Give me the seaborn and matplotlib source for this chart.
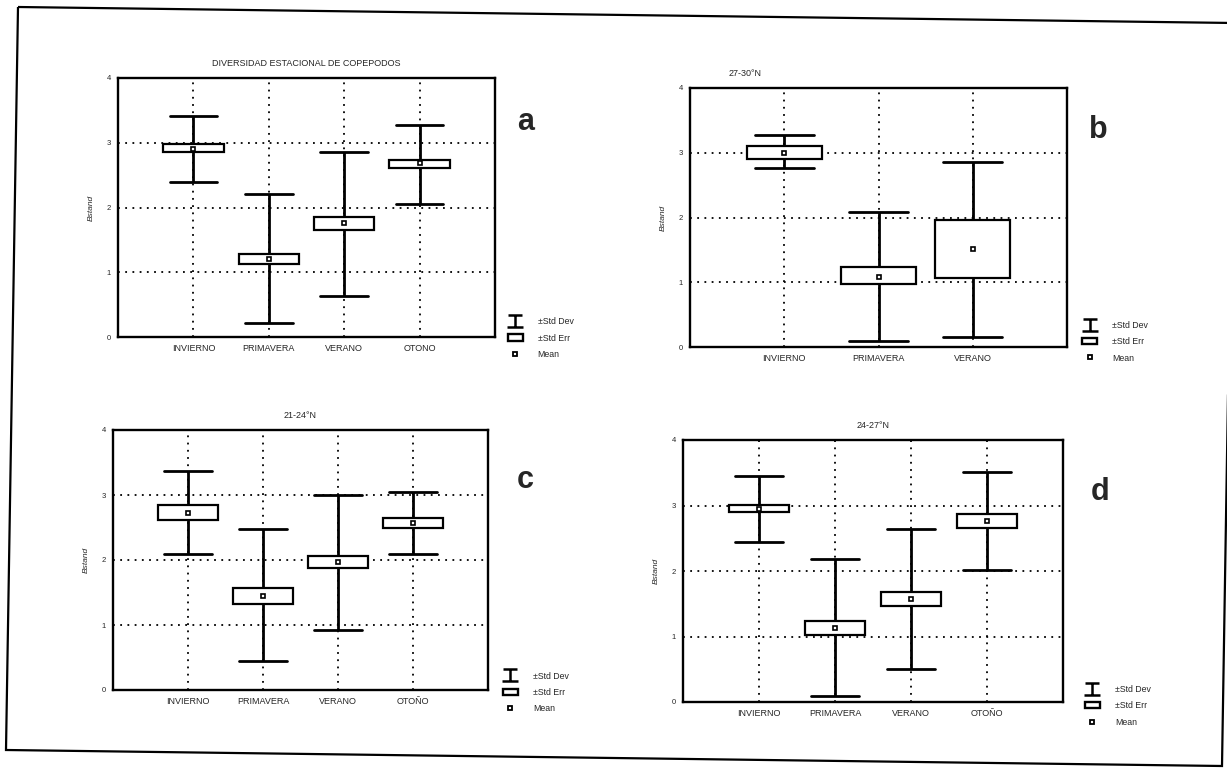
import numpy as np
import pandas as pd
import matplotlib
matplotlib.use("Agg")
import matplotlib.pyplot as plt
import seaborn as sns
from matplotlib.path import Path
from matplotlib.lines import Line2D
from matplotlib.patches import Patch, Polygon

# ---------------- data ----------------
seasons_a = ["INVIERNO", "PRIMAVERA", "VERANO", "OTONO"]
mean_a = [2.90, 1.20, 1.76, 2.68]
se_lo_a = [2.85, 1.12, 1.66, 2.61]
se_hi_a = [2.98, 1.28, 1.86, 2.74]
sd_lo_a = [2.40, 0.21, 0.64, 2.05]
sd_hi_a = [3.42, 2.21, 2.86, 3.28]

seasons_b = ["INVIERNO", "PRIMAVERA", "VERANO"]
mean_b = [3.00, 1.08, 1.51]
se_lo_b = [2.91, 0.97, 1.06]
se_hi_b = [3.10, 1.24, 1.96]
sd_lo_b = [2.77, 0.10, 0.15]
sd_hi_b = [3.27, 2.08, 2.86]

seasons_c = ["INVIERNO", "PRIMAVERA", "VERANO", "OTOÑO"]
mean_c = [2.73, 1.45, 1.97, 2.57]
se_lo_c = [2.62, 1.32, 1.87, 2.50]
se_hi_c = [2.85, 1.57, 2.06, 2.64]
sd_lo_c = [2.10, 0.44, 0.93, 2.09]
sd_hi_c = [3.37, 2.48, 3.00, 3.05]

seasons_d = ["INVIERNO", "PRIMAVERA", "VERANO", "OTOÑO"]
mean_d = [2.95, 1.13, 1.57, 2.77]
se_lo_d = [2.90, 1.02, 1.47, 2.65]
se_hi_d = [3.01, 1.23, 1.68, 2.87]
sd_lo_d = [2.45, 0.09, 0.51, 2.02]
sd_hi_d = [3.45, 2.18, 2.64, 3.51]

titles = ["DIVERSIDAD ESTACIONAL DE COPEPODOS", "27-30°N", "21-24°N", "24-27°N"]
panel_letters = ["a", "b", "c", "d"]
y_label = "Bstand"
y_ticks = [0, 1, 2, 3, 4]
legend_labels = ["±Std Dev", "±Std Err", "Mean"]

# ---------------- styling ----------------
sns.set_theme(style="white")
plt.rcParams['font.family'] = ['Liberation Sans', 'DejaVu Sans']

W, H = 1227, 769
fig = plt.figure(figsize=(W / 100, H / 100), dpi=100)


def px_rect(left, top, right, bottom):
    return [left / W, 1 - bottom / H, (right - left) / W, (bottom - top) / H]


layout = [
    dict(rect=px_rect(118, 78, 495, 337), title_x=0.5, letter_xy=(526, 122), leg=(1.034, -0.085)),
    dict(rect=px_rect(690, 88, 1067, 347), title_x=0.146, letter_xy=(1098, 130), leg=(1.04, -0.06)),
    dict(rect=px_rect(113, 430, 488, 690), title_x=0.5, letter_xy=(525, 480), leg=(1.04, -0.09)),
    dict(rect=px_rect(683, 440, 1063, 702), title_x=0.5, letter_xy=(1100, 492), leg=(1.058, -0.095)),
]

panel_data = [
    (seasons_a, sd_lo_a, se_lo_a, mean_a, se_hi_a, sd_hi_a),
    (seasons_b, sd_lo_b, se_lo_b, mean_b, se_hi_b, sd_hi_b),
    (seasons_c, sd_lo_c, se_lo_c, mean_c, se_hi_c, sd_hi_c),
    (seasons_d, sd_lo_d, se_lo_d, mean_d, se_hi_d, sd_hi_d),
]

# legend handles
sd_path = Path([(-1, 0.8), (1, 0.8), (0, 0.8), (0, -0.8), (-1.1, -0.8), (1.1, -0.8)],
               [Path.MOVETO, Path.LINETO, Path.MOVETO, Path.LINETO, Path.MOVETO, Path.LINETO])
handles = [
    Line2D([], [], marker=sd_path, linestyle='none', color='black', markersize=11, markeredgewidth=1.8),
    Patch(facecolor='white', edgecolor='black', linewidth=1.7),
    Line2D([], [], marker='s', linestyle='none', markersize=3.2, markerfacecolor='white',
           markeredgecolor='black', markeredgewidth=1.3),
]

for i, (cats, sd_lo, se_lo, mean, se_hi, sd_hi) in enumerate(panel_data):
    lay = layout[i]
    ax = fig.add_axes(lay["rect"])
    df = pd.DataFrame({
        "season": np.repeat(cats, 5),
        "value": np.column_stack([sd_lo, se_lo, mean, se_hi, sd_hi]).ravel(),
    })
    sns.boxplot(data=df, x="season", y="value", order=cats, whis=(0, 100), width=0.8,
                color="white", linecolor="black", linewidth=1.6, fliersize=0,
                capwidths=0.63, medianprops=dict(visible=False),
                whiskerprops=dict(linewidth=2.0), capprops=dict(linewidth=2.0), ax=ax)
    sns.pointplot(x=cats, y=mean, order=cats, linestyle="none", marker="s", color="black",
                  markersize=3.5, markerfacecolor="white", markeredgewidth=1.2,
                  errorbar=None, ax=ax)
    for ln in ax.lines[-1:]:
        ln.set_zorder(10)

    ax.set_xlim(-1, len(cats))
    ax.set_ylim(0, 4)
    ax.set_yticks(y_ticks)
    ax.set_axisbelow(True)
    ax.grid(True, axis="both", linestyle=(0, (1, 3)), color="black", linewidth=1.3)
    ax.tick_params(length=0, pad=5)
    ax.tick_params(axis="x", labelsize=6.5)
    ax.tick_params(axis="y", labelsize=5.5)
    ax.set_xlabel("")
    ax.set_ylabel(y_label, fontsize=6, style="italic", labelpad=9)
    for sp in ax.spines.values():
        sp.set_visible(True)
        sp.set_color("black")
        sp.set_linewidth(1.7)
    ax.set_title(titles[i], fontsize=6.5, pad=9, x=lay["title_x"])
    ax.legend(handles, legend_labels, loc="lower left", bbox_to_anchor=lay["leg"],
              frameon=False, fontsize=6.3, handlelength=1.7, handletextpad=1.7,
              labelspacing=0.85, borderpad=0, borderaxespad=0)
    lx, ly = lay["letter_xy"]
    fig.text(lx / W, 1 - ly / H, panel_letters[i], fontsize=22, fontweight="bold",
             ha="center", va="center")

# scanned page frame
corners = [(18, 7), (1234, 23), (1222, 766), (6, 750)]
frame = Polygon([(x / W, 1 - y / H) for x, y in corners], closed=True, fill=False,
                edgecolor="black", linewidth=1.6, transform=fig.transFigure)
fig.add_artist(frame)

fig.savefig("out.png", dpi=100)
